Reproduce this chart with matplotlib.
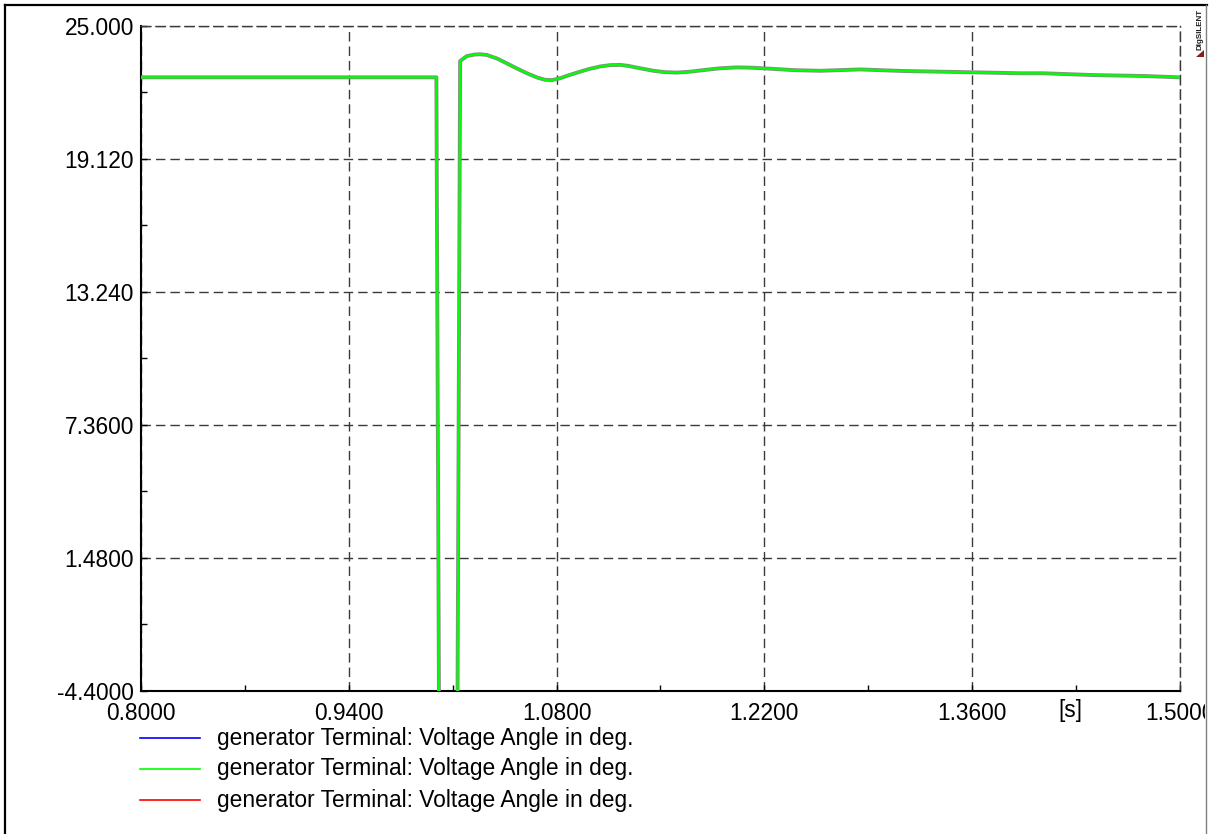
import matplotlib
matplotlib.use("Agg")
import matplotlib.pyplot as plt
import matplotlib.patheffects as pe
from matplotlib.lines import Line2D
from matplotlib.patches import Polygon
from matplotlib.transforms import Bbox, TransformedBbox
from matplotlib.ticker import FixedLocator

plt.rcParams['font.family'] = ['Liberation Sans', 'DejaVu Sans']
plt.rcParams['lines.scale_dashes'] = False

# time in s, terminal voltage angle in deg
time_s = [0.80, 0.9990, 1.0012, 1.0128, 1.0150, 1.0195, 1.0250, 1.0284, 1.0330,
          1.0400, 1.0464, 1.0530, 1.0600, 1.0670, 1.0722, 1.0770, 1.0824, 1.0890,
          1.0958, 1.1020, 1.1093, 1.1160, 1.1228, 1.1280, 1.1340, 1.1452, 1.1530,
          1.1610, 1.1700, 1.1789, 1.1900, 1.2014, 1.2100, 1.2193, 1.2396, 1.2575,
          1.2845, 1.3137, 1.3474, 1.3923, 1.4080, 1.4417, 1.4754, 1.5000]
angle_deg = [22.73, 22.73, -12.0, -12.0, 23.45, 23.67, 23.74, 23.75, 23.72,
             23.56, 23.35, 23.13, 22.91, 22.72, 22.62, 22.61, 22.69, 22.84,
             22.98, 23.10, 23.21, 23.27, 23.28, 23.24, 23.16, 23.02, 22.96,
             22.94, 22.98, 23.05, 23.13, 23.17, 23.16, 23.13, 23.05, 23.02,
             23.08, 23.01, 22.97, 22.91, 22.91, 22.83, 22.79, 22.73]

series_labels = ['generator Terminal: Voltage Angle in deg.'] * 3
series_colors = ['#0000ff', '#00ff00', '#ff0000']

x_ticks = [0.80, 0.94, 1.08, 1.22, 1.36, 1.50]
x_labels = ['0.8000', '0.9400', '1.0800', '1.2200', '1.3600', '1.5000']
y_ticks = [-4.4, 1.48, 7.36, 13.24, 19.12, 25.0]
y_labels = ['-4.4000', '1.4800', '7.3600', '13.240', '19.120', '25.000']

W, H = 1219, 834
fig = plt.figure(figsize=(W / 100, H / 100), dpi=100)
ax = fig.add_axes([141 / W, 1 - 691 / H, 1039 / W, 665 / H])

dash = (0, (6.8, 3.6))
fs = 16.4

# blue and red traces lie beneath the green one
ax.plot(time_s, angle_deg, color=series_colors[0], lw=1.5, zorder=3)
ax.plot(time_s, angle_deg, color=series_colors[2], lw=1.5, zorder=3)
ax.plot(time_s, angle_deg, color=series_colors[1], lw=1.6, zorder=4,
        path_effects=[pe.Stroke(linewidth=2.8, foreground='#8a8a8a'), pe.Normal()])

ax.set_xlim(0.8, 1.5)
ax.set_ylim(-4.4, 25.0)
ax.set_xticks(x_ticks)
ax.set_xticklabels(x_labels)
ax.set_yticks(y_ticks)
ax.set_yticklabels(y_labels)
ax.xaxis.set_minor_locator(FixedLocator([0.87, 1.01, 1.15, 1.29, 1.43]))
ax.yaxis.set_minor_locator(FixedLocator([-1.46, 4.42, 10.30, 16.18, 22.06]))
ax.tick_params(which='both', direction='in', length=4, width=1, color='black',
               labelsize=fs, top=False, right=False)
ax.tick_params(axis='x', pad=8)
ax.tick_params(axis='y', pad=5)

ax.grid(True, which='major', color='#3a3a3a', lw=1, linestyle=dash)
for s in ['left', 'bottom']:
    ax.spines[s].set_linewidth(1.5)
    ax.spines[s].set_color('black')
for s in ['top', 'right']:
    ax.spines[s].set_linewidth(1)
    ax.spines[s].set_color('#3a3a3a')
    ax.spines[s].set_linestyle(dash)

# clip tick labels at the page frame
clip = TransformedBbox(Bbox([[0, 0], [1205 / W, 1]]), fig.transFigure)
for lab in ax.get_xticklabels():
    lab.set_clip_box(clip)
    lab.set_clip_on(True)

fig.text(1070 / W, 1 - 711 / H, '[s]', fontsize=fs, ha='center', va='center')

# legend
for i, (lab, col) in enumerate(zip(series_labels, series_colors)):
    yy = 1 - (738 + 31 * i) / H
    fig.add_artist(Line2D([140 / W, 200 / W], [yy, yy], color=col, lw=1.2))
    fig.text(217 / W, yy, lab, fontsize=fs, ha='left', va='center')

# page frame
fig.add_artist(Line2D([5 / W, 5 / W], [0, 1 - 5 / H], color='black', lw=1.6))
fig.add_artist(Line2D([5 / W, 1207 / W], [1 - 5 / H, 1 - 5 / H], color='black', lw=1.6))
fig.add_artist(Line2D([1206 / W, 1206 / W], [0, 1 - 5 / H], color='#808080', lw=1))

# DIgSILENT mark
fig.text(1200 / W, 1 - 29 / H, 'DIgSILENT', rotation=90, fontsize=5.8,
         fontweight='bold', ha='center', va='center', color='#202020')
fig.add_artist(Polygon([[1196 / W, 1 - 57 / H], [1204 / W, 1 - 57 / H],
                        [1204 / W, 1 - 50 / H]], closed=True,
                       facecolor='#8b1a1a', edgecolor='none',
                       transform=fig.transFigure))

fig.savefig('out.png', dpi=100)
